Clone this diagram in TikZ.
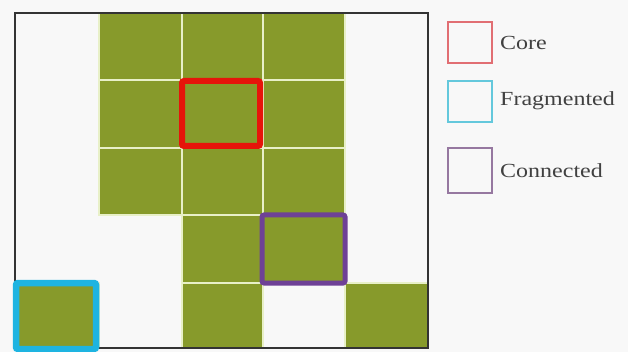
\documentclass[tikz,border=0pt]{standalone}
\usepackage{fontspec}
\newfontfamily\legendfont[FakeStretch=1.2]{Liberation Serif}
\definecolor{cellgreen}{RGB}{135,154,43}
\definecolor{gapline}{RGB}{232,240,200}
\definecolor{bgwhite}{RGB}{248,248,248}
\definecolor{corered}{RGB}{230,20,10}
\definecolor{fragcyan}{RGB}{30,180,225}
\definecolor{connpurple}{RGB}{110,65,150}
\definecolor{legred}{RGB}{225,110,115}
\definecolor{legcyan}{RGB}{100,200,220}
\definecolor{legpurple}{RGB}{150,120,160}
\definecolor{legtext}{RGB}{65,65,65}
\tikzset{
  cell/.style={fill=cellgreen, draw=gapline, line width=1.6pt},
  mark box/.style={line width=6pt, rounded corners=2pt},
  legbox/.style={line width=1.4pt},
  legtxt/.style={anchor=west, inner sep=0pt, text=legtext, font=\legendfont\fontsize{20}{23}\selectfont},
}
\begin{document}
\begin{tikzpicture}[x=1pt,y=-1pt]
\fill[bgwhite] (0,0) rectangle (628,352);
\useasboundingbox (0,0) rectangle (628,352);
% column and row boundaries
\def\xa{15}\def\xb{99}\def\xc{182}\def\xd{263}\def\xe{345}\def\xf{428}
\def\ya{13}\def\yb{80}\def\yc{148}\def\yd{215}\def\ye{283}\def\yf{348}
% row 1
\draw[cell] (\xb,\ya) rectangle (\xc,\yb);
\draw[cell] (\xc,\ya) rectangle (\xd,\yb);
\draw[cell] (\xd,\ya) rectangle (\xe,\yb);
% row 2
\draw[cell] (\xb,\yb) rectangle (\xc,\yc);
\draw[cell] (\xc,\yb) rectangle (\xd,\yc);
\draw[cell] (\xd,\yb) rectangle (\xe,\yc);
% row 3
\draw[cell] (\xb,\yc) rectangle (\xc,\yd);
\draw[cell] (\xc,\yc) rectangle (\xd,\yd);
\draw[cell] (\xd,\yc) rectangle (\xe,\yd);
% row 4
\draw[cell] (\xc,\yd) rectangle (\xd,\ye);
\draw[cell] (\xd,\yd) rectangle (\xe,\ye);
% row 5
\draw[cell] (\xa,\ye) rectangle (\xb,\yf);
\draw[cell] (\xc,\ye) rectangle (\xd,\yf);
\draw[cell] (\xe,\ye) rectangle (\xf,\yf);
% outer frame
\draw[line width=1.6pt, draw=black!80] (\xa,\ya) rectangle (\xf,\yf);
% highlighted cells
\draw[mark box, draw=corered] (182,81) rectangle (260,146);
\draw[mark box, draw=connpurple, line width=5pt] (262,215) rectangle (345,283);
\draw[mark box, draw=fragcyan, line width=6.5pt] (16,283) rectangle (96,349);
% legend
\draw[legbox, draw=legred] (448,22) rectangle (492,63);
\draw[legbox, draw=legcyan] (448,81) rectangle (492,122);
\draw[legbox, draw=legpurple] (448,148) rectangle (492,193);
\node[legtxt] (core) at (500,43) {Core};
\node[legtxt] (frag) at (500,101) {Fragmented};
\node[legtxt] (conn) at (500,171) {Connected};
\end{tikzpicture}
\end{document}
